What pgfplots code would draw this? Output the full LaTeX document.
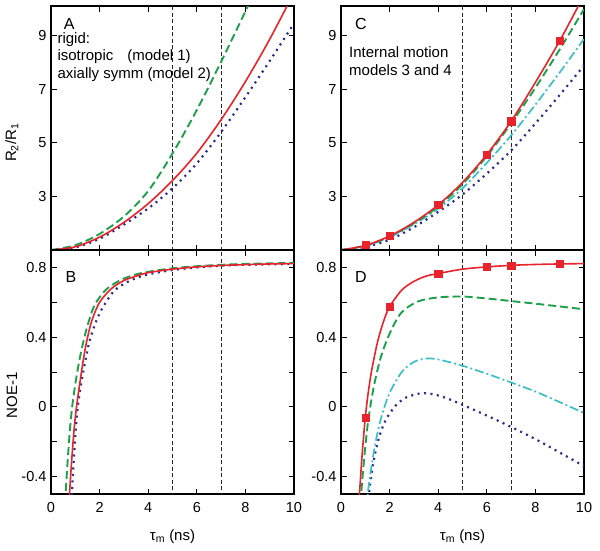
\documentclass[border=0pt]{standalone}
\usepackage{pgfplots}
\pgfplotsset{compat=1.18}
\usepgfplotslibrary{groupplots}
\usetikzlibrary{calc}
\usepackage{fontspec}
\setmainfont{Liberation Sans}
\definecolor{cred}{HTML}{E8232B}
\definecolor{cgreen}{HTML}{1DA04C}
\definecolor{cblue}{HTML}{2B2B8C}
\definecolor{ccyan}{HTML}{3CBFC0}
\pgfplotsset{
  rline/.style={cred, line width=1.6pt, smooth, tension=0.5, no markers},
  gline/.style={cgreen, line width=1.9pt, smooth, tension=0.5, no markers, dash pattern=on 8pt off 4pt},
  bline/.style={cblue, line width=2.2pt, smooth, tension=0.5, no markers, dash pattern=on 2pt off 4.5pt},
  cline/.style={ccyan, line width=1.7pt, smooth, tension=0.5, no markers, dash pattern=on 9pt off 3pt on 2pt off 3pt},
  vline/.style={black!85, line width=0.7pt, dash pattern=on 4pt off 2.5pt, no markers},
  sq/.style={only marks, mark=square*, mark size=3.6pt, cred, mark options={fill=cred, draw=cred}},
}
\tikzset{
  lett/.style={font=\fontsize{16}{18}\selectfont, inner sep=0pt},
  txt/.style={font=\fontsize{15}{17}\selectfont, inner sep=0pt, anchor=west},
}
\begin{document}
\begin{tikzpicture}
\begin{groupplot}[
  group style={group size=2 by 2, horizontal sep=47pt, vertical sep=0pt},
  scale only axis, width=243pt, height=244pt,
  xmin=0, xmax=10,
  label style={font=\fontsize{15}{17}\selectfont},
  tick label style={font=\fontsize{14.5}{16}\selectfont},
  axis line style={line width=1.8pt},
  tick style={line width=0.9pt, black},
  major tick length=5.5pt, minor tick length=5.5pt,
  tick align=inside,
  xtick={0,2,4,6,8,10},
  xticklabel style={yshift=-5pt},
  yticklabel style={xshift=-1pt},
  xlabel style={at={(axis description cs:0.5,-0.176)}, anchor=center},
  ylabel style={anchor=center},
]
% ---------- A ----------
\nextgroupplot[ymin=1, ymax=10.1, ytick={3,5,7,9}, yticklabels={3,5,7,9}, xticklabels={},
  ylabel={R\textsubscript{2}/R\textsubscript{1}}, ylabel style={at={(axis description cs:-0.161,0.44)}}]
\coordinate (tl) at (rel axis cs:0,1);
\addplot[vline] coordinates {(5,0) (5,11)};
\addplot[vline] coordinates {(7,0) (7,11)};
\addplot[bline] coordinates {(0,1) (1,1.1) (2,1.42) (3,1.95) (4,2.55) (5,3.3) (6,4.23) (7,5.4) (8,6.7) (9,8.05) (10,9.45)};
\addplot[gline] coordinates {(0,1) (1,1.18) (2,1.6) (3,2.25) (4,3.2) (5,4.6) (6,6.22) (7,8.02) (8,9.9) (9,11.8)};
\addplot[rline] coordinates {(0,1) (1,1.12) (2,1.48) (3,2.03) (4,2.73) (5,3.59) (6,4.61) (7,5.86) (8,7.28) (9,8.86) (10,10.6)};
\node[lett] at (axis description cs:0.075,0.928) {A};
\node[txt] at (axis description cs:0.026,0.861) {rigid:};
\node[txt] at (axis description cs:0.026,0.791) {isotropic\hspace{14pt}(model 1)};
\node[txt] at (axis description cs:0.026,0.717) {axially symm (model 2)};
% ---------- C ----------
\nextgroupplot[ymin=1, ymax=10.1, ytick={3,5,7,9}, yticklabels={3,5,7,9}, xticklabels={}]
\addplot[vline] coordinates {(5,0) (5,11)};
\addplot[vline] coordinates {(7,0) (7,11)};
\addplot[bline] coordinates {(0,1) (1,1.12) (2,1.38) (3,1.85) (4,2.42) (5,3.07) (6,3.85) (7,4.71) (8,5.72) (9,6.78) (10,7.88)};
\addplot[cline] coordinates {(0,1) (1,1.15) (2,1.47) (3,1.96) (4,2.54) (5,3.3) (6,4.25) (7,5.27) (8,6.42) (9,7.62) (10,8.87)};
\addplot[gline] coordinates {(0,1) (1,1.16) (2,1.5) (3,2.0) (4,2.62) (5,3.45) (6,4.5) (7,5.72) (8,7.05) (9,8.48) (10,9.98)};
\addplot[rline] coordinates {(0,1) (1,1.17) (2,1.52) (3,2.03) (4,2.68) (5,3.52) (6,4.56) (7,5.8) (8,7.25) (9,8.8) (10,10.5)};
\addplot[sq] coordinates {(1,1.18) (2,1.52) (4,2.68) (6,4.56) (7,5.8) (9,8.8)};
\node[lett] at (axis description cs:0.082,0.928) {C};
\node[txt] at (axis description cs:0.033,0.811) {Internal motion};
\node[txt] at (axis description cs:0.033,0.738) {models 3 and 4};
% ---------- B ----------
\nextgroupplot[ymin=-0.5, ymax=0.9, ytick={-0.4,0,0.4,0.8}, yticklabels={-0.4,0,0.4,0.8},
  minor ytick={-0.2,0.2,0.6}, xticklabels={0,2,4,6,8,10},
  xlabel={τ\textsubscript{m} (ns)},
  ylabel={NOE-1}, ylabel style={at={(axis description cs:-0.161,0.405)}}]
\addplot[vline] coordinates {(5,-1) (5,1)};
\addplot[vline] coordinates {(7,-1) (7,1)};
\addplot[bline] coordinates {(0.82,-0.62) (0.86,-0.5) (0.93,-0.32) (1.0,-0.17) (1.07,-0.04) (1.2,0.1) (1.4,0.255) (1.6,0.385) (1.87,0.495) (2.15,0.575) (2.63,0.67) (3.31,0.728) (4,0.76) (5,0.785) (6,0.8) (7,0.81) (8,0.815) (10,0.82)};
\addplot[gline] coordinates {(0.55,-0.62) (0.6,-0.5) (0.7,-0.28) (0.78,-0.13) (0.87,0) (1.0,0.13) (1.1,0.215) (1.26,0.33) (1.5,0.465) (1.8,0.585) (2.28,0.675) (2.9,0.73) (3.5,0.76) (4,0.775) (5,0.795) (6,0.807) (7,0.815) (8,0.82) (10,0.826)};
\addplot[rline] coordinates {(0.7,-0.62) (0.76,-0.5) (0.85,-0.31) (0.95,-0.13) (1.05,0) (1.19,0.14) (1.33,0.27) (1.46,0.37) (1.67,0.49) (2,0.6) (2.5,0.68) (3,0.725) (3.5,0.75) (4,0.77) (5,0.79) (6,0.803) (7,0.811) (8,0.816) (9,0.82) (10,0.822)};
\node[lett] at (axis description cs:0.082,0.889) {B};
% ---------- D ----------
\nextgroupplot[ymin=-0.5, ymax=0.9, ytick={-0.4,0,0.4,0.8}, yticklabels={-0.4,0,0.4,0.8},
  minor ytick={-0.2,0.2,0.6}, xticklabels={0,2,4,6,8,10},
  xlabel={τ\textsubscript{m} (ns)}]
\addplot[vline] coordinates {(5,-1) (5,1)};
\addplot[vline] coordinates {(7,-1) (7,1)};
\addplot[bline] coordinates {(1.1,-0.6) (1.15,-0.5) (1.25,-0.39) (1.4,-0.27) (1.6,-0.16) (1.86,-0.07) (2.27,0.01) (2.7,0.055) (3.3,0.078) (3.8,0.072) (4.3,0.052) (5,0.012) (6,-0.05) (7,-0.115) (8,-0.185) (9,-0.262) (10,-0.34)};
\addplot[cline] coordinates {(1.05,-0.58) (1.1,-0.5) (1.2,-0.39) (1.35,-0.26) (1.5,-0.15) (1.7,-0.04) (2.0,0.08) (2.5,0.2) (3.0,0.258) (3.5,0.277) (4,0.272) (5,0.236) (6,0.19) (7,0.14) (8,0.088) (9,0.027) (10,-0.035)};
\addplot[gline] coordinates {(0.78,-0.62) (0.83,-0.5) (0.95,-0.3) (1.1,-0.1) (1.25,0.04) (1.4,0.15) (1.65,0.29) (2.0,0.42) (2.48,0.54) (3.17,0.605) (4,0.628) (5,0.633) (6,0.622) (7,0.607) (8,0.592) (9,0.576) (10,0.56)};
\addplot[rline] coordinates {(0.7,-0.62) (0.76,-0.5) (0.85,-0.31) (0.93,-0.17) (1.0,-0.06) (1.1,0.06) (1.25,0.2) (1.5,0.37) (1.75,0.49) (2.0,0.575) (2.5,0.67) (3,0.72) (3.5,0.75) (4,0.765) (5,0.79) (6,0.803) (7,0.812) (8,0.817) (9,0.82) (10,0.822)};
\addplot[sq] coordinates {(1,-0.06) (2,0.575) (4,0.765) (6,0.803) (7,0.812) (9,0.82)};
\node[lett] at (axis description cs:0.082,0.889) {D};
\end{groupplot}
\pgfresetboundingbox
\path[use as bounding box] ($(tl)+(-51pt,6pt)$) rectangle ($(tl)+(549pt,-544pt)$);
\end{tikzpicture}
\end{document}
